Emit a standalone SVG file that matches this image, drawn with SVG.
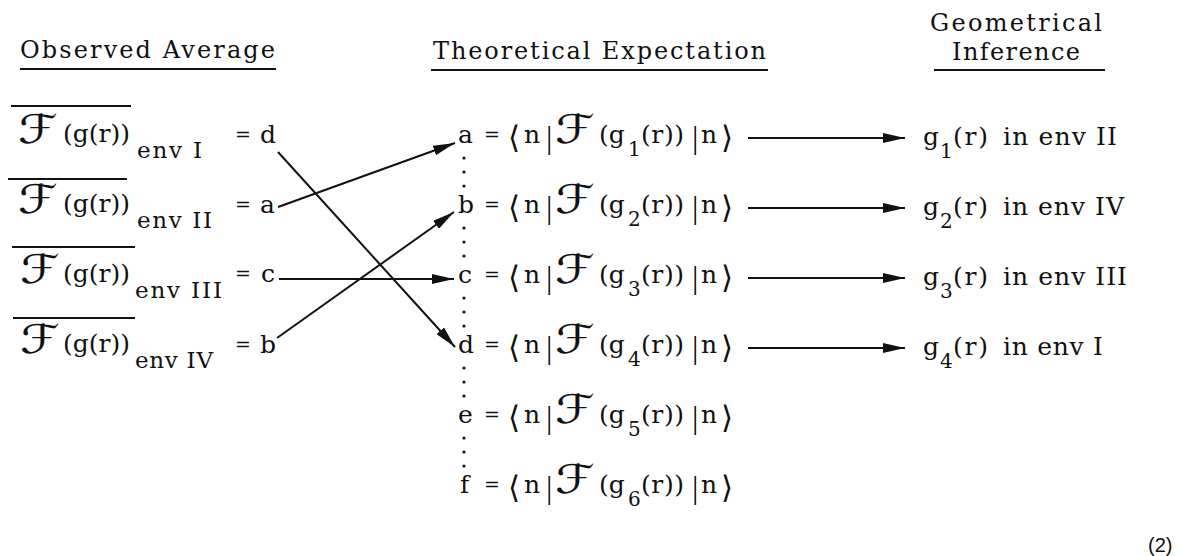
<svg xmlns="http://www.w3.org/2000/svg" width="1181" height="556" viewBox="0 0 1181 556">
<defs>
<style>
.t{font-family:"DejaVu Serif","Liberation Serif",serif;font-size:25px;fill:#111}
.eq{font-family:"DejaVu Serif","Liberation Serif",serif;font-size:19px;fill:#111}
.h{font-family:"DejaVu Serif","Liberation Serif",serif;font-size:24px;fill:#111}
.s{font-family:"DejaVu Serif","Liberation Serif",serif;font-size:20px;fill:#111}
.sub{font-family:"DejaVu Serif","Liberation Serif",serif;font-size:23px;fill:#111}
.F{font-family:"DejaVu Serif","DejaVu Sans",serif;font-size:40px;font-style:italic;fill:#111}
.br{font-family:"DejaVu Sans",sans-serif;font-size:31px;fill:#111}
.bar{font-family:"Liberation Serif",serif;font-size:32px;fill:#111}
.ln{stroke:#111;stroke-width:2;fill:none}
.ol{stroke:#111;stroke-width:1.8;fill:none}
.dot{fill:#111}
.num{font-family:"Liberation Sans",sans-serif;font-size:20px;fill:#111}
</style>
<marker id="ah" markerWidth="22" markerHeight="10" refX="22" refY="5" orient="auto" markerUnits="userSpaceOnUse">
<path d="M0,0 L22,5 L0,10 Z" fill="#111"/>
</marker>
</defs>
<rect width="1181" height="556" fill="#fff"/>

<g id="headers">
<text class="h" x="20" y="58" textLength="255" lengthAdjust="spacing">Observed Average</text>
<line class="ln" x1="20" y1="69" x2="276" y2="69"/>
<text class="h" x="433" y="59" textLength="333" lengthAdjust="spacing">Theoretical Expectation</text>
<line class="ln" x1="431" y1="70" x2="768" y2="70"/>
<text class="h" x="930" y="31" textLength="172" lengthAdjust="spacing">Geometrical</text>
<text class="h" x="952" y="60" textLength="128" lengthAdjust="spacing">Inference</text>
<line class="ln" x1="934" y1="70" x2="1105" y2="70"/>
</g>

<g id="obs-1">
<line class="ol" x1="11" y1="106" x2="131" y2="106"/>
<text class="F" x="18" y="143" textLength="40" lengthAdjust="spacingAndGlyphs">ℱ</text>
<text class="t" x="63" y="142" textLength="67" lengthAdjust="spacing">(g(r))</text>
<text class="sub" x="137" y="158" textLength="65" lengthAdjust="spacing">env I</text>
<text class="eq" x="235" y="141">=</text>
<text class="t" x="260" y="143">d</text>
</g>
<g id="obs-2">
<line class="ol" x1="8" y1="179" x2="127" y2="179"/>
<text class="F" x="18" y="213" textLength="40" lengthAdjust="spacingAndGlyphs">ℱ</text>
<text class="t" x="63" y="212" textLength="67" lengthAdjust="spacing">(g(r))</text>
<text class="sub" x="137" y="228" textLength="75" lengthAdjust="spacing">env II</text>
<text class="eq" x="235" y="211">=</text>
<text class="t" x="260" y="213">a</text>
</g>
<g id="obs-3">
<line class="ol" x1="12" y1="247" x2="135" y2="247"/>
<text class="F" x="20" y="283" textLength="40" lengthAdjust="spacingAndGlyphs">ℱ</text>
<text class="t" x="63" y="282" textLength="67" lengthAdjust="spacing">(g(r))</text>
<text class="sub" x="135" y="298" textLength="87" lengthAdjust="spacing">env III</text>
<text class="eq" x="235" y="280">=</text>
<text class="t" x="261" y="282">c</text>
</g>
<g id="obs-4">
<line class="ol" x1="13" y1="318" x2="135" y2="318"/>
<text class="F" x="20" y="353" textLength="40" lengthAdjust="spacingAndGlyphs">ℱ</text>
<text class="t" x="63" y="352" textLength="67" lengthAdjust="spacing">(g(r))</text>
<text class="sub" x="135" y="368" textLength="78" lengthAdjust="spacing">env IV</text>
<text class="eq" x="235" y="351">=</text>
<text class="t" x="260" y="353">b</text>
</g>

<g id="exp-a">
<text class="t" x="458" y="143">a</text>
<text class="eq" x="484" y="141">=</text>
<text class="br" x="508" y="148">⟨</text>
<text class="t" x="524" y="143">n</text>
<text class="bar" x="546" y="148">|</text>
<text class="F" x="555" y="143" textLength="40" lengthAdjust="spacingAndGlyphs">ℱ</text>
<text class="t" x="599" y="143">(g</text>
<text class="s" x="628" y="156">1</text>
<text class="t" x="641" y="143" textLength="43" lengthAdjust="spacing">(r))</text>
<text class="bar" x="692" y="148">|</text>
<text class="t" x="701" y="143">n</text>
<text class="br" x="721" y="148">⟩</text>
</g>
<g id="exp-b">
<text class="t" x="458" y="213">b</text>
<text class="eq" x="484" y="211">=</text>
<text class="br" x="508" y="218">⟨</text>
<text class="t" x="524" y="213">n</text>
<text class="bar" x="546" y="218">|</text>
<text class="F" x="555" y="213" textLength="40" lengthAdjust="spacingAndGlyphs">ℱ</text>
<text class="t" x="599" y="213">(g</text>
<text class="s" x="628" y="226">2</text>
<text class="t" x="641" y="213" textLength="43" lengthAdjust="spacing">(r))</text>
<text class="bar" x="692" y="218">|</text>
<text class="t" x="701" y="213">n</text>
<text class="br" x="721" y="218">⟩</text>
</g>
<g id="exp-c">
<text class="t" x="458" y="283">c</text>
<text class="eq" x="484" y="281">=</text>
<text class="br" x="508" y="288">⟨</text>
<text class="t" x="524" y="283">n</text>
<text class="bar" x="546" y="288">|</text>
<text class="F" x="555" y="283" textLength="40" lengthAdjust="spacingAndGlyphs">ℱ</text>
<text class="t" x="599" y="283">(g</text>
<text class="s" x="628" y="296">3</text>
<text class="t" x="641" y="283" textLength="43" lengthAdjust="spacing">(r))</text>
<text class="bar" x="692" y="288">|</text>
<text class="t" x="701" y="283">n</text>
<text class="br" x="721" y="288">⟩</text>
</g>
<g id="exp-d">
<text class="t" x="458" y="353">d</text>
<text class="eq" x="484" y="351">=</text>
<text class="br" x="508" y="358">⟨</text>
<text class="t" x="524" y="353">n</text>
<text class="bar" x="546" y="358">|</text>
<text class="F" x="555" y="353" textLength="40" lengthAdjust="spacingAndGlyphs">ℱ</text>
<text class="t" x="599" y="353">(g</text>
<text class="s" x="628" y="366">4</text>
<text class="t" x="641" y="353" textLength="43" lengthAdjust="spacing">(r))</text>
<text class="bar" x="692" y="358">|</text>
<text class="t" x="701" y="353">n</text>
<text class="br" x="721" y="358">⟩</text>
</g>
<g id="exp-e">
<text class="t" x="458" y="423">e</text>
<text class="eq" x="484" y="421">=</text>
<text class="br" x="508" y="428">⟨</text>
<text class="t" x="524" y="423">n</text>
<text class="bar" x="546" y="428">|</text>
<text class="F" x="555" y="423" textLength="40" lengthAdjust="spacingAndGlyphs">ℱ</text>
<text class="t" x="599" y="423">(g</text>
<text class="s" x="628" y="436">5</text>
<text class="t" x="641" y="423" textLength="43" lengthAdjust="spacing">(r))</text>
<text class="bar" x="692" y="428">|</text>
<text class="t" x="701" y="423">n</text>
<text class="br" x="721" y="428">⟩</text>
</g>
<g id="exp-f">
<text class="t" x="460" y="493">f</text>
<text class="eq" x="484" y="491">=</text>
<text class="br" x="508" y="498">⟨</text>
<text class="t" x="524" y="493">n</text>
<text class="bar" x="546" y="498">|</text>
<text class="F" x="555" y="493" textLength="40" lengthAdjust="spacingAndGlyphs">ℱ</text>
<text class="t" x="599" y="493">(g</text>
<text class="s" x="628" y="506">6</text>
<text class="t" x="641" y="493" textLength="43" lengthAdjust="spacing">(r))</text>
<text class="bar" x="692" y="498">|</text>
<text class="t" x="701" y="493">n</text>
<text class="br" x="721" y="498">⟩</text>
</g>

<g id="dots">
<circle class="dot" cx="464" cy="158" r="1.6"/><circle class="dot" cx="464" cy="172" r="1.6"/><circle class="dot" cx="464" cy="186" r="1.6"/>
<circle class="dot" cx="464" cy="228" r="1.6"/><circle class="dot" cx="464" cy="242" r="1.6"/><circle class="dot" cx="464" cy="256" r="1.6"/>
<circle class="dot" cx="464" cy="298" r="1.6"/><circle class="dot" cx="464" cy="312" r="1.6"/><circle class="dot" cx="464" cy="326" r="1.6"/>
<circle class="dot" cx="464" cy="368" r="1.6"/><circle class="dot" cx="464" cy="382" r="1.6"/><circle class="dot" cx="464" cy="396" r="1.6"/>
<circle class="dot" cx="464" cy="438" r="1.6"/><circle class="dot" cx="464" cy="452" r="1.6"/><circle class="dot" cx="464" cy="466" r="1.6"/>
</g>

<g id="inf-1">
<text class="t" x="923" y="145">g</text>
<text class="s" x="940" y="158">1</text>
<text class="t" x="953" y="145" textLength="35" lengthAdjust="spacing">(r)</text>
<text class="t" x="1003" y="145" textLength="114" lengthAdjust="spacing">in env II</text>
</g>
<g id="inf-2">
<text class="t" x="923" y="215">g</text>
<text class="s" x="940" y="228">2</text>
<text class="t" x="953" y="215" textLength="35" lengthAdjust="spacing">(r)</text>
<text class="t" x="1003" y="215" textLength="121" lengthAdjust="spacing">in env IV</text>
</g>
<g id="inf-3">
<text class="t" x="923" y="285">g</text>
<text class="s" x="940" y="298">3</text>
<text class="t" x="953" y="285" textLength="35" lengthAdjust="spacing">(r)</text>
<text class="t" x="1003" y="285" textLength="124" lengthAdjust="spacing">in env III</text>
</g>
<g id="inf-4">
<text class="t" x="923" y="355">g</text>
<text class="s" x="940" y="368">4</text>
<text class="t" x="953" y="355" textLength="35" lengthAdjust="spacing">(r)</text>
<text class="t" x="1003" y="355" textLength="100" lengthAdjust="spacing">in env I</text>
</g>

<g id="connectors">
<line class="ln" x1="278" y1="152" x2="455" y2="347" marker-end="url(#ah)"/>
<line class="ln" x1="278" y1="207" x2="455" y2="143" marker-end="url(#ah)"/>
<line class="ln" x1="279" y1="279" x2="454" y2="279" marker-end="url(#ah)"/>
<line class="ln" x1="277" y1="338" x2="454" y2="212" marker-end="url(#ah)"/>
<line class="ln" x1="748" y1="138" x2="905" y2="138" marker-end="url(#ah)"/>
<line class="ln" x1="748" y1="208" x2="905" y2="208" marker-end="url(#ah)"/>
<line class="ln" x1="748" y1="278" x2="905" y2="278" marker-end="url(#ah)"/>
<line class="ln" x1="748" y1="348" x2="905" y2="348" marker-end="url(#ah)"/>
</g>

<text class="num" x="1148" y="552">(2)</text>
</svg>
